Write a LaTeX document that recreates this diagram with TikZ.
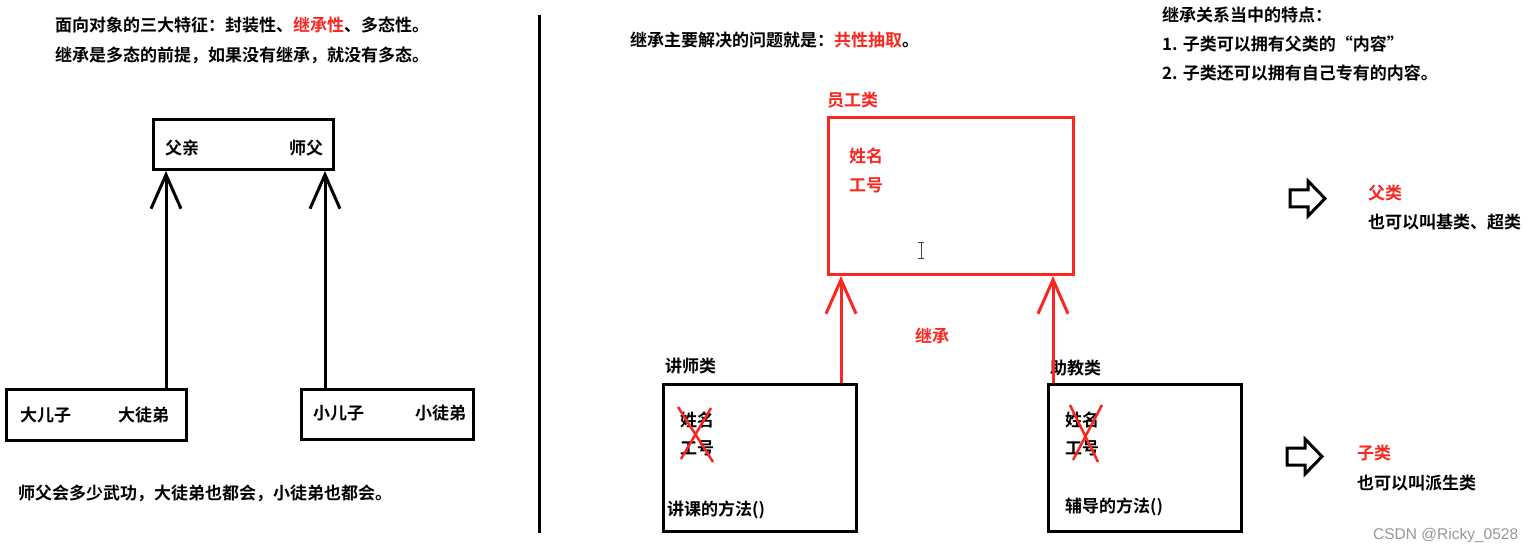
\documentclass[tikz,border=0pt]{standalone}
\usepackage{fontspec}
\setmainfont{Noto Sans CJK SC}[BoldFont={Noto Sans CJK SC Bold}]
\newfontfamily\wmfont{Liberation Sans}
\usetikzlibrary{arrows.meta}
\definecolor{rd}{RGB}{250,38,32}
\definecolor{wm}{RGB}{150,150,150}
\tikzset{
  txt/.style={anchor=west,inner sep=0pt,font=\bfseries\fontsize{17}{20}\selectfont},
  rtxt/.style={txt,text=rd},
  bbox/.style={draw=black,line width=3pt,minimum width=#1,inner sep=0pt},
  inh/.style={line width=3pt,-{Straight Barb[length=34pt,width=30pt,line width=3pt]}},
  rinh/.style={inh,draw=rd},
  xmark/.style={draw=rd,line width=2.5pt},
  blockarrow/.style={draw=black,line width=3pt,line join=miter}
}
\begin{document}
\begin{tikzpicture}[x=1pt,y=-1pt]
\useasboundingbox (0,0) rectangle (1533,553);
% ---------------- left half
\node[txt] (l1) at (55,25) {面向对象的三大特征：封装性、\textcolor{rd}{继承性}、多态性。};
\node[txt] (l2) at (55,55) {继承是多态的前提，如果没有继承，就没有多态。};
\node[bbox=180pt,minimum height=50pt] (fb) at (243.5,144.5) {};
\node[txt] (fq) at (165,148) {父亲};
\node[txt] (sf) at (289,148) {师父};
\node[bbox=180pt,minimum height=51pt] (s1) at (96.5,415) {};
\node[txt] (dez) at (20,415) {大儿子};
\node[txt] (dtd) at (118,415) {大徒弟};
\node[bbox=172pt,minimum height=50pt] (s2) at (387.5,414.5) {};
\node[txt] (xez) at (313,413) {小儿子};
\node[txt] (xtd) at (415,413) {小徒弟};
\coordinate (a1) at (166,0);
\coordinate (a2) at (325,0);
\draw[inh] (s1.north -| a1) -- (fb.south -| a1);
\draw[inh] (s2.north -| a2) -- (fb.south -| a2);
\node[txt] (lb) at (18,493) {师父会多少武功，大徒弟也都会，小徒弟也都会。};
% divider
\coordinate (d1) at (539,15);
\coordinate (d2) at (539,533);
\draw[line width=3pt] (d1) -- (d2);
% ---------------- right half
\node[txt] (r1) at (630,40) {继承主要解决的问题就是：\textcolor{rd}{共性抽取}。};
\node[rtxt] (ygl) at (827,100) {员工类};
\node[bbox=245pt,minimum height=157pt,draw=rd] (emp) at (951,196) {};
\node[rtxt] (exm) at (849,156) {姓名};
\node[rtxt] (egh) at (849,185) {工号};
% I-beam cursor
\coordinate (c1) at (921,243);
\coordinate (c2) at (921,259);
\draw[line width=1pt,black!75] (c1) -- (c2) ([xshift=-3pt]c1) -- ([xshift=3pt]c1) ([xshift=-3pt]c2) -- ([xshift=3pt]c2);
\node[txt] (jsl) at (665,366) {讲师类};
\node[bbox=193pt,minimum height=147pt] (t1) at (760,458) {};
\node[txt] (t1a) at (680,420) {姓名};
\node[txt] (t1b) at (680,448) {工号};
\node[txt] (t1c) at (667,510) {讲课的方法()};
\node[txt] (zjl) at (1050,368) {助教类};
\node[bbox=193pt,minimum height=147pt] (t2) at (1145,458) {};
\node[txt] (t2a) at (1065,420) {姓名};
\node[txt] (t2b) at (1065,448) {工号};
\node[txt] (t2c) at (1065,507) {辅导的方法()};
\node[rtxt] (jc) at (915,336) {继承};
\coordinate (b1) at (841,0);
\coordinate (b2) at (1053,0);
\draw[rinh] (t1.north -| b1) -- (emp.south -| b1);
\draw[rinh] (t2.north -| b2) -- (emp.south -| b2);
% red crosses
\coordinate (x1a) at (678,407);
\coordinate (x1b) at (713,462);
\coordinate (x1c) at (711,408);
\coordinate (x1d) at (681,459);
\draw[xmark] (x1a) -- (x1b) (x1c) -- (x1d);
\coordinate (x2a) at (1070,405);
\coordinate (x2b) at (1098,462);
\coordinate (x2c) at (1102,405);
\coordinate (x2d) at (1073,460);
\draw[xmark] (x2a) -- (x2b) (x2c) -- (x2d);
% top right
\node[txt] (f0) at (1162,15) {继承关系当中的特点：};
\node[txt] (f1) at (1162,44) {1. 子类可以拥有父类的“内容”};
\node[txt] (f2) at (1162,73) {2. 子类还可以拥有自己专有的内容。};
% block arrows
\draw[blockarrow] (1290,190) -- (1308,190) -- (1308,181) -- (1325,198.5) -- (1308,216) -- (1308,207) -- (1290,207) -- cycle;
\node[rtxt] (fl) at (1368,193) {父类};
\node[txt] (fl2) at (1368,222) {也可以叫基类、超类};
\draw[blockarrow] (1287,448) -- (1305,448) -- (1305,439) -- (1322,456.5) -- (1305,474) -- (1305,465) -- (1287,465) -- cycle;
\node[rtxt] (zl) at (1357,453) {子类};
\node[txt] (zl2) at (1357,483) {也可以叫派生类};
% watermark
\node[anchor=west,inner sep=0pt,text=wm,font=\wmfont\fontsize{15.5}{17}\selectfont] (wmk) at (1373,535) {CSDN @Ricky\_0528};
\end{tikzpicture}
\end{document}
